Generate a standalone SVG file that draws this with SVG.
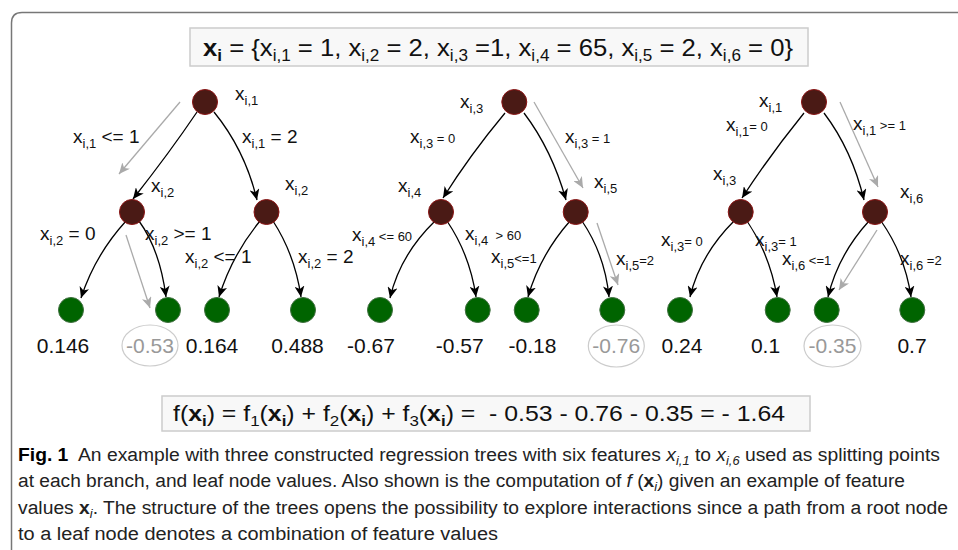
<svg xmlns="http://www.w3.org/2000/svg" width="958" height="550" viewBox="0 0 958 550">
<defs>
<style>
text{font-family:"Liberation Sans",Arial,sans-serif;fill:#111}
.lbl{font-size:19px}
.sm{font-size:13px}
.val{font-size:21px;text-anchor:middle}
.gval{font-size:21px;text-anchor:middle;fill:#999}
.inner{fill:#4a1a15;stroke:#8a1414;stroke-width:1}
.leaf{fill:#006400;stroke:#3f6f3f;stroke-width:1}
.edge{fill:none;stroke:#000;stroke-width:1.3;marker-end:url(#ah)}
.gedge{fill:none;stroke:#aaa;stroke-width:1.3;marker-end:url(#gah)}
.box{fill:#f8f8f8;stroke:#ccc;stroke-width:1.5}
.cap{font-size:18px;fill:#222}
</style>
<marker id="ah" markerUnits="userSpaceOnUse" markerWidth="12" markerHeight="10" refX="11" refY="5" orient="auto" viewBox="0 0 12 10">
<path d="M0,0 L11,5 L0,10 L3,5 z" fill="#000"/>
</marker>
<marker id="gah" markerUnits="userSpaceOnUse" markerWidth="12" markerHeight="10" refX="11" refY="5" orient="auto" viewBox="0 0 12 10">
<path d="M0,0 L11,5 L0,10 L3,5 z" fill="#aaa"/>
</marker>
</defs>
<rect width="958" height="550" fill="#fff"/>
<path d="M11.5,560 L11.5,23 Q11.5,12.5 22,12.5 L970,12.5" fill="none" stroke="#777" stroke-width="1.5"/>

<g id="top-formula">
<rect class="box" x="190" y="28" width="618" height="38"/>
<text x="203" y="56" font-size="24" textLength="590" lengthAdjust="spacingAndGlyphs"><tspan font-weight="bold">x</tspan><tspan font-weight="bold" font-size="16" dy="5">i</tspan><tspan dy="-5"> = {x</tspan><tspan font-size="16" dy="5">i,1</tspan><tspan dy="-5"> = 1, x</tspan><tspan font-size="16" dy="5">i,2</tspan><tspan dy="-5"> = 2, x</tspan><tspan font-size="16" dy="5">i,3</tspan><tspan dy="-5"> =1, x</tspan><tspan font-size="16" dy="5">i,4</tspan><tspan dy="-5"> = 65, x</tspan><tspan font-size="16" dy="5">i,5</tspan><tspan dy="-5"> = 2, x</tspan><tspan font-size="16" dy="5">i,6</tspan><tspan dy="-5"> = 0}</tspan></text>
</g>

<g id="connectors">
<!-- tree 1 -->
<path class="edge" d="M197,112 Q170,152 133,199"/>
<path class="edge" d="M214,112 Q245,150 257,200"/>
<path class="edge" d="M126,221 Q95,255 81,298"/>
<path class="edge" d="M139,221 Q160,250 166,297"/>
<path class="edge" d="M260,221 Q232,255 219,297"/>
<path class="edge" d="M273,221 Q295,255 301,297"/>
<path class="gedge" d="M180,102 L119,174"/>
<path class="gedge" d="M126,235 L150,308"/>
<!-- tree 2 -->
<path class="edge" d="M505,113 Q470,155 443,198"/>
<path class="edge" d="M524,113 Q552,150 566,200"/>
<path class="edge" d="M435,221 Q400,255 390,298"/>
<path class="edge" d="M447,221 Q470,255 476,297"/>
<path class="edge" d="M570,221 Q540,255 528,297"/>
<path class="edge" d="M582,221 Q605,255 609,297"/>
<path class="gedge" d="M534,102 L583,188"/>
<path class="gedge" d="M597,223 L618,285"/>
<!-- tree 3 -->
<path class="edge" d="M804,113 Q770,155 742,198"/>
<path class="edge" d="M824,113 Q852,150 864,200"/>
<path class="edge" d="M734,221 Q700,255 690,297"/>
<path class="edge" d="M747,221 Q770,255 777,297"/>
<path class="edge" d="M869,221 Q838,255 828,297"/>
<path class="edge" d="M881,221 Q905,255 911,297"/>
<path class="gedge" d="M840,102 L878,187"/>
<path class="gedge" d="M877,230 L839,290"/>
</g>

<!-- tree 1 nodes -->
<g id="t1-root"><circle class="inner" cx="205" cy="102" r="12.5"/><text class="lbl" x="235" y="100">x<tspan class="sm" dy="5">i,1</tspan></text></g>
<g id="t1-n1"><circle class="inner" cx="132" cy="212" r="12.5"/><text class="lbl" x="151" y="192">x<tspan class="sm" dy="5">i,2</tspan></text></g>
<g id="t1-n2"><circle class="inner" cx="266.5" cy="212" r="12.5"/><text class="lbl" x="285" y="190">x<tspan class="sm" dy="5">i,2</tspan></text></g>
<g id="t1-l1"><circle class="leaf" cx="71" cy="310" r="12.5"/><text class="val" x="63" y="353">0.146</text></g>
<g id="t1-l2"><circle class="leaf" cx="168" cy="310" r="12.5"/><ellipse cx="150" cy="345.5" rx="28" ry="20.5" fill="none" stroke="#ccc" stroke-width="1.2"/><text class="gval" x="150" y="353">-0.53</text></g>
<g id="t1-l3"><circle class="leaf" cx="217" cy="310" r="12.5"/><text class="val" x="212" y="353">0.164</text></g>
<g id="t1-l4"><circle class="leaf" cx="303" cy="310" r="12.5"/><text class="val" x="297.5" y="353">0.488</text></g>
<g id="t1-labels">
<text class="lbl" x="73" y="143">x<tspan class="sm" dy="5">i,1</tspan><tspan dy="-5"> &lt;= 1</tspan></text>
<text class="lbl" x="242" y="143">x<tspan class="sm" dy="5">i,1</tspan><tspan dy="-5"> = 2</tspan></text>
<text class="lbl" x="40" y="240">x<tspan class="sm" dy="5">i,2</tspan><tspan dy="-5"> = 0</tspan></text>
<text class="lbl" x="145" y="240">x<tspan class="sm" dy="5">i,2</tspan><tspan dy="-5"> &gt;= 1</tspan></text>
<text class="lbl" x="185" y="263">x<tspan class="sm" dy="5">i,2</tspan><tspan dy="-5"> &lt;= 1</tspan></text>
<text class="lbl" x="298" y="263">x<tspan class="sm" dy="5">i,2</tspan><tspan dy="-5"> = 2</tspan></text>
</g>

<!-- tree 2 nodes -->
<g id="t2-root"><circle class="inner" cx="514.3" cy="102" r="12.5"/><text class="lbl" x="460" y="108">x<tspan class="sm" dy="5">i,3</tspan></text></g>
<g id="t2-n1"><circle class="inner" cx="441" cy="212" r="12.5"/><text class="lbl" x="398" y="192">x<tspan class="sm" dy="5">i,4</tspan></text></g>
<g id="t2-n2"><circle class="inner" cx="575.7" cy="212" r="12.5"/><text class="lbl" x="594" y="188">x<tspan class="sm" dy="5">i,5</tspan></text></g>
<g id="t2-l1"><circle class="leaf" cx="380" cy="310" r="12.5"/><text class="val" x="371" y="353">-0.67</text></g>
<g id="t2-l2"><circle class="leaf" cx="477.7" cy="310" r="12.5"/><text class="val" x="459.7" y="353">-0.57</text></g>
<g id="t2-l3"><circle class="leaf" cx="526.7" cy="310" r="12.5"/><text class="val" x="532.5" y="353">-0.18</text></g>
<g id="t2-l4"><circle class="leaf" cx="612.3" cy="310" r="12.5"/><ellipse cx="616.3" cy="346" rx="28" ry="21" fill="none" stroke="#ccc" stroke-width="1.2"/><text class="gval" x="616.3" y="353">-0.76</text></g>
<g id="t2-labels">
<text class="lbl" x="410" y="143">x<tspan class="sm" dy="5">i,3</tspan><tspan class="sm" dy="-5"> = 0</tspan></text>
<text class="lbl" x="565" y="143">x<tspan class="sm" dy="5">i,3</tspan><tspan class="sm" dy="-5"> = 1</tspan></text>
<text class="lbl" x="352" y="241">x<tspan class="sm" dy="5">i,4</tspan><tspan class="sm" dy="-5"> &lt;= 60</tspan></text>
<text class="lbl" x="465" y="240">x<tspan class="sm" dy="5">i,4</tspan><tspan class="sm" dy="-5">&#160; &gt; 60</tspan></text>
<text class="lbl" x="491" y="263">x<tspan class="sm" dy="5">i,5</tspan><tspan class="sm" dy="-5">&lt;=1</tspan></text>
<text class="lbl" x="616" y="265">x<tspan class="sm" dy="5">i,5</tspan><tspan class="sm" dy="-5">=2</tspan></text>
</g>

<!-- tree 3 nodes -->
<g id="t3-root"><circle class="inner" cx="814" cy="102" r="12.5"/><text class="lbl" x="759" y="107">x<tspan class="sm" dy="5">i,1</tspan></text></g>
<g id="t3-n1"><circle class="inner" cx="740.7" cy="212" r="12.5"/><text class="lbl" x="713" y="180">x<tspan class="sm" dy="5">i,3</tspan></text></g>
<g id="t3-n2"><circle class="inner" cx="875" cy="212" r="12.5"/><text class="lbl" x="900" y="198">x<tspan class="sm" dy="5">i,6</tspan></text></g>
<g id="t3-l1"><circle class="leaf" cx="680" cy="310" r="12.5"/><text class="val" x="682" y="353">0.24</text></g>
<g id="t3-l2"><circle class="leaf" cx="777.7" cy="310" r="12.5"/><text class="val" x="765.5" y="353">0.1</text></g>
<g id="t3-l3"><circle class="leaf" cx="826.7" cy="310" r="12.5"/><ellipse cx="832.5" cy="346" rx="28.5" ry="21" fill="none" stroke="#ccc" stroke-width="1.2"/><text class="gval" x="832.5" y="353">-0.35</text></g>
<g id="t3-l4"><circle class="leaf" cx="912.3" cy="310" r="12.5"/><text class="val" x="912" y="353">0.7</text></g>
<g id="t3-labels">
<text class="lbl" x="726" y="131">x<tspan class="sm" dy="5">i,1</tspan><tspan class="sm" dy="-5">= 0</tspan></text>
<text class="lbl" x="853" y="130">x<tspan class="sm" dy="5">i,1</tspan><tspan class="sm" dy="-5"> &gt;= 1</tspan></text>
<text class="lbl" x="661" y="246">x<tspan class="sm" dy="5">i,3</tspan><tspan class="sm" dy="-5">= 0</tspan></text>
<text class="lbl" x="755" y="246">x<tspan class="sm" dy="5">i,3</tspan><tspan class="sm" dy="-5">= 1</tspan></text>
<text class="lbl" x="782" y="265">x<tspan class="sm" dy="5">i,6</tspan><tspan class="sm" dy="-5"> &lt;=1</tspan></text>
<text class="lbl" x="900" y="265">x<tspan class="sm" dy="5">i,6</tspan><tspan class="sm" dy="-5"> =2</tspan></text>
</g>

<g id="bottom-formula">
<rect class="box" x="162" y="396" width="648" height="35"/>
<text x="173" y="421" font-size="22" textLength="612" lengthAdjust="spacingAndGlyphs">f(<tspan font-weight="bold">x</tspan><tspan font-weight="bold" font-size="15" dy="5">i</tspan><tspan dy="-5">) = f</tspan><tspan font-size="15" dy="5">1</tspan><tspan dy="-5">(</tspan><tspan font-weight="bold">x</tspan><tspan font-weight="bold" font-size="15" dy="5">i</tspan><tspan dy="-5">) + f</tspan><tspan font-size="15" dy="5">2</tspan><tspan dy="-5">(</tspan><tspan font-weight="bold">x</tspan><tspan font-weight="bold" font-size="15" dy="5">i</tspan><tspan dy="-5">) + f</tspan><tspan font-size="15" dy="5">3</tspan><tspan dy="-5">(</tspan><tspan font-weight="bold">x</tspan><tspan font-weight="bold" font-size="15" dy="5">i</tspan><tspan dy="-5">) =&#160; - 0.53 - 0.76 - 0.35 = - 1.64</tspan></text>
</g>

<g id="caption">
<text class="cap" x="18" y="461" textLength="922" lengthAdjust="spacingAndGlyphs"><tspan font-weight="bold" fill="#000">Fig. 1</tspan>&#160; An example with three constructed regression trees with six features <tspan font-style="italic">x</tspan><tspan font-style="italic" font-size="12" dy="4">i,1</tspan><tspan dy="-4"> to </tspan><tspan font-style="italic">x</tspan><tspan font-style="italic" font-size="12" dy="4">i,6</tspan><tspan dy="-4"> used as splitting points</tspan></text>
<text class="cap" x="18" y="487" textLength="887" lengthAdjust="spacingAndGlyphs">at each branch, and leaf node values. Also shown is the computation of <tspan font-style="italic">f</tspan> (<tspan font-weight="bold">x</tspan><tspan font-style="italic" font-size="12" dy="4">i</tspan><tspan dy="-4">) given an example of feature</tspan></text>
<text class="cap" x="18" y="514" textLength="930" lengthAdjust="spacingAndGlyphs">values <tspan font-weight="bold">x</tspan><tspan font-style="italic" font-size="12" dy="4">i</tspan><tspan dy="-4">. The structure of the trees opens the possibility to explore interactions since a path from a root node</tspan></text>
<text class="cap" x="18" y="540" textLength="480" lengthAdjust="spacingAndGlyphs">to a leaf node denotes a combination of feature values</text>
</g>
</svg>
